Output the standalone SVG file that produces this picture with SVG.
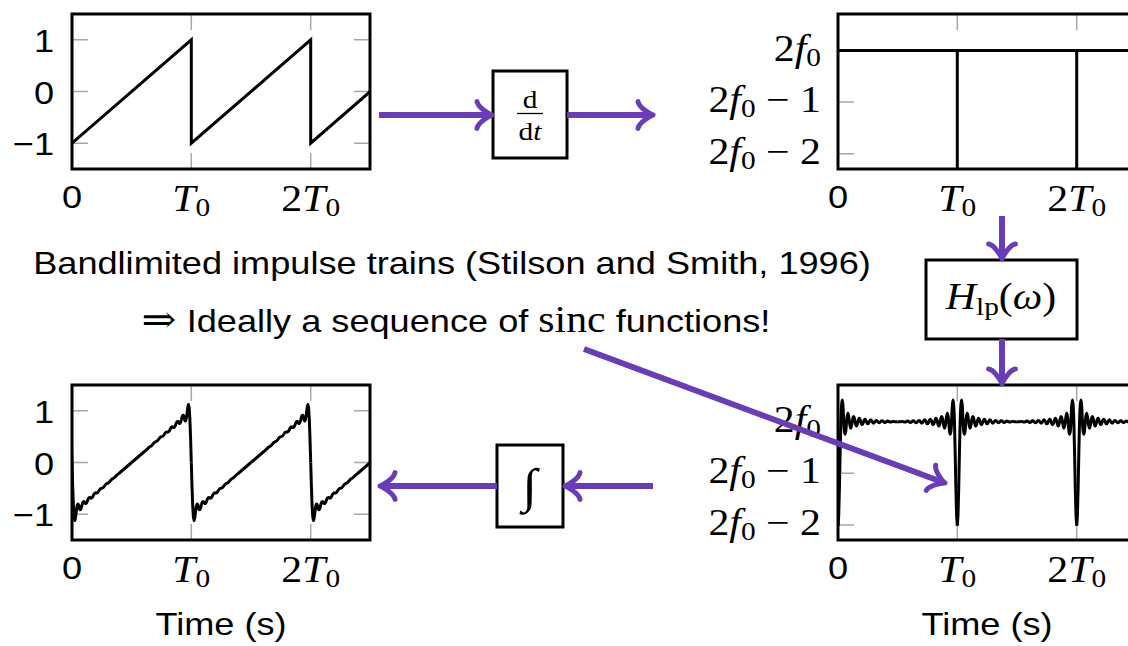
<svg xmlns="http://www.w3.org/2000/svg" width="1128" height="646" viewBox="0 0 1128 646">
<defs>
<style>
.sans{font-family:"Liberation Sans",Arial,Helvetica,sans-serif;font-size:32px;fill:#000}
.math{font-family:"Liberation Serif","DejaVu Serif",serif;font-size:37px;fill:#000}
.it{font-style:italic}
.sub{font-size:26px}
.frame{fill:none;stroke:#000;stroke-width:3}
.tick{fill:none;stroke:#a8a8a8;stroke-width:1.5}
.sig{fill:none;stroke:#000;stroke-width:3;stroke-linejoin:round}
.sharp{fill:none;stroke:#000;stroke-width:3;stroke-linejoin:miter}
.box{fill:#fff;stroke:#000;stroke-width:3}
.conn{fill:none;stroke:#6A3DB8;stroke-width:6;marker-end:url(#ah)}
</style>
<marker id="ah" markerUnits="userSpaceOnUse" viewBox="-18 -16 24 32" markerWidth="24" markerHeight="32" refX="-3" refY="0" orient="auto" overflow="visible">
<path d="M-15,-13.4 C-14,-7.4 -2.6,-0.75 0,0 C-2.6,0.75 -14,7.4 -15,13.4" fill="none" stroke="#6A3DB8" stroke-width="5" stroke-linecap="round" stroke-linejoin="round"/>
</marker>
<clipPath id="cTL"><rect x="72" y="14" width="298" height="155"/></clipPath>
<clipPath id="cBL"><rect x="72" y="385" width="298" height="155"/></clipPath>
<clipPath id="cTR"><rect x="838" y="14" width="298" height="155"/></clipPath>
<clipPath id="cBR"><rect x="838" y="385" width="298" height="155"/></clipPath>
<path id="halfsaw" d="M0,0 L0.71,24.2 L1.42,43.6 L2.13,55 L2.84,58 L3.55,54.9 L4.26,49.1 Q5.68,36.53 7.10,45.19 Q8.52,50.37 9.94,42.75 Q11.36,36.87 12.78,40.31 Q14.21,42.69 15.63,37.86 Q17.05,33.76 18.47,35.42 Q19.89,36.58 21.31,32.98 Q22.73,29.78 24.15,30.54 Q25.57,30.99 26.99,28.09 Q28.41,25.43 29.83,25.65 Q31.25,25.65 32.67,23.21 Q34.09,20.95 35.51,20.76 Q36.93,20.42 38.36,18.32 Q39.78,16.36 41.20,15.88 Q42.62,15.28 44.04,13.44 Q45.46,11.72 46.88,11 L59.66,0"/>
<path id="sincR" d="M0,104 L0.71,93.6 L1.42,66.2 L2.13,31.2 L2.84,0 Q4.26,-43.4 5.68,0 Q7.10,25.2 8.52,0 Q9.94,-17.5 11.36,0 Q12.79,13.2 14.21,0 Q15.63,-10.4 17.05,0 Q18.47,8.5 19.89,0 Q21.31,-7 22.73,0 Q24.15,5.9 25.57,0 Q26.99,-5 28.41,0 Q29.83,4.3 31.25,0 Q32.67,-3.7 34.09,0 Q35.51,3.1 36.93,0 Q38.35,-2.6 39.78,0 Q41.19,2.2 42.62,0 Q44.03,-1.8 45.46,0 Q46.88,1.4 48.30,0 Q49.72,-1.1 51.14,0 Q52.56,0.8 53.98,0 Q55.40,-0.5 56.82,0 Q58.24,0.2 59.66,0"/>
</defs>
<rect width="1128" height="646" fill="#fff"/>

<g id="plot-saw">
<path class="tick" d="M72,39.8h16M72,91.5h16M72,143.2h16M370,39.8h-16M370,91.5h-16M370,143.2h-16M191.3,14v16M310.7,14v16M191.3,169v-16M310.7,169v-16"/>
<g clip-path="url(#cTL)"><path class="sharp" d="M72,143.2 L191.3,39.8 L191.3,143.2 L310.7,39.8 L310.7,143.2 L370.3,91.5"/></g>
<rect class="frame" x="72" y="14" width="298" height="155"/>
<text class="sans" text-anchor="end" transform="matrix(1.13 0 0 1 54 52)">1</text>
<text class="sans" text-anchor="end" transform="matrix(1.13 0 0 1 54 103.5)">0</text>
<text class="sans" text-anchor="end" transform="matrix(1.13 0 0 1 54 155)">−1</text>
<text class="sans" text-anchor="middle" transform="matrix(1.13 0 0 1 72 208)">0</text>
<text class="math" text-anchor="middle" transform="matrix(1.13 0 0 1 191.3 211)"><tspan class="it">T</tspan><tspan class="sub" dy="5">0</tspan></text>
<text class="math" text-anchor="middle" transform="matrix(1.13 0 0 1 310.7 211)">2<tspan class="it">T</tspan><tspan class="sub" dy="5">0</tspan></text>
</g>

<g id="plot-impulse">
<path class="tick" d="M838,102h16M838,153.7h16M957.3,14v16M1076.7,14v16M957.3,169v-16M1076.7,169v-16"/>
<g clip-path="url(#cTR)"><path class="sharp" d="M838,50.5 H1136 M957.3,50.5 V172 M1076.7,50.5 V172"/></g>
<rect class="frame" x="838" y="14" width="298" height="155"/>
<text class="math" text-anchor="end" transform="matrix(1.13 0 0 1 821 60.5)">2<tspan class="it">f</tspan><tspan class="sub" dy="5">0</tspan></text>
<text class="math" text-anchor="end" transform="matrix(1.13 0 0 1 821 112)">2<tspan class="it">f</tspan><tspan class="sub" dy="5">0</tspan><tspan dy="-5"> − 1</tspan></text>
<text class="math" text-anchor="end" transform="matrix(1.13 0 0 1 821 163.7)">2<tspan class="it">f</tspan><tspan class="sub" dy="5">0</tspan><tspan dy="-5"> − 2</tspan></text>
<text class="sans" text-anchor="middle" transform="matrix(1.13 0 0 1 838 208)">0</text>
<text class="math" text-anchor="middle" transform="matrix(1.13 0 0 1 957.3 211)"><tspan class="it">T</tspan><tspan class="sub" dy="5">0</tspan></text>
<text class="math" text-anchor="middle" transform="matrix(1.13 0 0 1 1076.7 211)">2<tspan class="it">T</tspan><tspan class="sub" dy="5">0</tspan></text>
</g>

<g id="plot-blit">
<path class="tick" d="M838,473.3h16M838,525h16M957.3,385v16M1076.7,385v16M957.3,540v-16M1076.7,540v-16"/>
<g clip-path="url(#cBR)" class="sig">
<g transform="translate(838,421.7)"><use href="#sincR"/><use href="#sincR" transform="scale(-1,1)"/></g>
<g transform="translate(957.3,421.7)"><use href="#sincR"/><use href="#sincR" transform="scale(-1,1)"/></g>
<g transform="translate(1076.7,421.7)"><use href="#sincR"/><use href="#sincR" transform="scale(-1,1)"/></g>
</g>
<rect class="frame" x="838" y="385" width="298" height="155"/>
<text class="math" text-anchor="end" transform="matrix(1.13 0 0 1 821 431.7)">2<tspan class="it">f</tspan><tspan class="sub" dy="5">0</tspan></text>
<text class="math" text-anchor="end" transform="matrix(1.13 0 0 1 821 483.3)">2<tspan class="it">f</tspan><tspan class="sub" dy="5">0</tspan><tspan dy="-5"> − 1</tspan></text>
<text class="math" text-anchor="end" transform="matrix(1.13 0 0 1 821 535)">2<tspan class="it">f</tspan><tspan class="sub" dy="5">0</tspan><tspan dy="-5"> − 2</tspan></text>
<text class="sans" text-anchor="middle" transform="matrix(1.13 0 0 1 838 579)">0</text>
<text class="math" text-anchor="middle" transform="matrix(1.13 0 0 1 957.3 582)"><tspan class="it">T</tspan><tspan class="sub" dy="5">0</tspan></text>
<text class="math" text-anchor="middle" transform="matrix(1.13 0 0 1 1076.7 582)">2<tspan class="it">T</tspan><tspan class="sub" dy="5">0</tspan></text>
<text class="sans" text-anchor="middle" transform="matrix(1.13 0 0 1 987 635)">Time (s)</text>
</g>

<g id="plot-blsaw">
<path class="tick" d="M72,410.8h16M72,462.5h16M72,514.2h16M370,410.8h-16M370,462.5h-16M370,514.2h-16M191.3,385v16M310.7,385v16M191.3,540v-16M310.7,540v-16"/>
<g clip-path="url(#cBL)" class="sig">
<g transform="translate(72,462.5)"><use href="#halfsaw"/><use href="#halfsaw" transform="scale(-1,-1)"/></g>
<g transform="translate(191.3,462.5)"><use href="#halfsaw"/><use href="#halfsaw" transform="scale(-1,-1)"/></g>
<g transform="translate(310.7,462.5)"><use href="#halfsaw"/><use href="#halfsaw" transform="scale(-1,-1)"/></g>
</g>
<rect class="frame" x="72" y="385" width="298" height="155"/>
<text class="sans" text-anchor="end" transform="matrix(1.13 0 0 1 54 423)">1</text>
<text class="sans" text-anchor="end" transform="matrix(1.13 0 0 1 54 474.5)">0</text>
<text class="sans" text-anchor="end" transform="matrix(1.13 0 0 1 54 526)">−1</text>
<text class="sans" text-anchor="middle" transform="matrix(1.13 0 0 1 72 579)">0</text>
<text class="math" text-anchor="middle" transform="matrix(1.13 0 0 1 191.3 582)"><tspan class="it">T</tspan><tspan class="sub" dy="5">0</tspan></text>
<text class="math" text-anchor="middle" transform="matrix(1.13 0 0 1 310.7 582)">2<tspan class="it">T</tspan><tspan class="sub" dy="5">0</tspan></text>
<text class="sans" text-anchor="middle" transform="matrix(1.13 0 0 1 221 635)">Time (s)</text>
</g>

<g id="box-deriv">
<rect class="box" x="493" y="71" width="74" height="87"/>
<text class="math" style="font-size:26px" text-anchor="middle" transform="matrix(1.13 0 0 1 530 108)">d</text>
<line x1="517" y1="113.5" x2="543" y2="113.5" stroke="#000" stroke-width="1.3"/>
<text class="math" style="font-size:26px" text-anchor="middle" transform="matrix(1.13 0 0 1 530 140)">d<tspan class="it">t</tspan></text>
</g>

<g id="box-lowpass">
<rect class="box" x="926" y="260" width="151" height="79"/>
<text class="math" text-anchor="middle" transform="matrix(1.13 0 0 1 1001 309)"><tspan class="it">H</tspan><tspan class="sub" dy="6">lp</tspan><tspan dy="-6">(</tspan><tspan class="it">ω</tspan>)</text>
</g>

<g id="box-integral">
<rect class="box" x="497" y="445" width="66" height="82"/>
<text class="math" style="font-size:48px" text-anchor="middle" transform="matrix(1.13 0 0 1 530 502)">∫</text>
</g>

<g id="caption">
<text class="sans" text-anchor="middle" transform="matrix(1.13 0 0 1 452 274)">Bandlimited impulse trains (Stilson and Smith, 1996)</text>
<text class="sans" text-anchor="middle" transform="matrix(1.13 0 0 1 456 332)"><tspan class="math">⇒</tspan> Ideally a sequence of <tspan class="math">sinc</tspan> functions!</text>
</g>

<g id="connectors">
<path class="conn" d="M379,115 H489"/>
<path class="conn" d="M567,115 H650"/>
<path class="conn" d="M1002,216 V256"/>
<path class="conn" d="M1002,339 V381"/>
<path class="conn" d="M653,486 H568"/>
<path class="conn" d="M497,486 H383"/>
<path class="conn" d="M584,349 L942.2,482"/>
</g>
</svg>
